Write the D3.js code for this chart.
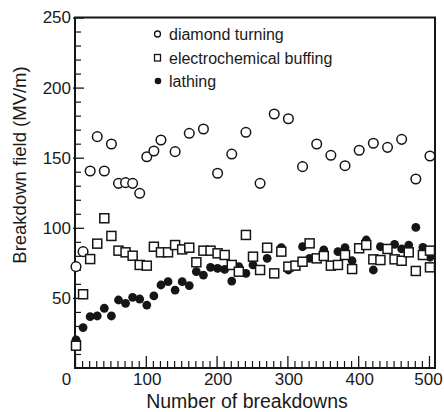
<!DOCTYPE html>
<html>
<head>
<meta charset="utf-8">
<script src="https://cdn.jsdelivr.net/npm/d3@7"></script>
<style>
  html, body { margin: 0; padding: 0; background: #fff; }
  svg { display: block; }
  text { font-family: "Liberation Sans", Arial, Helvetica, sans-serif; fill: #1a1a1a; }
</style>
</head>
<body>
<svg id="chart" width="444" height="412"></svg>
<script>
// ---- Data ----
const seriesNames = ["diamond turning", "electrochemical buffing", "lathing"];

const diamondX = [0, 10, 20, 30, 40, 50, 60, 70, 80, 90, 100, 110, 120, 140, 160, 180, 200, 220, 240, 260, 280, 300, 320, 340, 360, 380, 400, 420, 440, 460, 480, 500];
const diamondY = [72.3, 83.0, 140.5, 165.0, 140.5, 159.8, 131.7, 132.2, 131.7, 124.6, 150.7, 154.8, 162.6, 154.3, 167.4, 170.5, 138.9, 152.6, 168.1, 131.7, 181.2, 177.8, 143.6, 159.8, 151.7, 144.3, 155.3, 160.3, 157.4, 163.1, 134.8, 151.2];

const buffingX = [0, 10, 20, 30, 40, 50, 60, 70, 80, 90, 100, 110, 120, 130, 140, 150, 160, 170, 180, 190, 200, 210, 220, 230, 240, 250, 260, 270, 280, 290, 300, 310, 320, 330, 340, 350, 360, 370, 380, 390, 400, 410, 420, 430, 440, 450, 460, 470, 480, 490, 500, 500];
const buffingY = [15.9, 52.6, 77.7, 88.7, 106.8, 94.2, 83.7, 82.5, 80.1, 73.5, 73.0, 86.5, 82.5, 82.5, 87.7, 84.6, 85.8, 75.4, 83.7, 83.7, 81.8, 80.6, 73.5, 68.7, 94.9, 79.4, 69.9, 85.8, 67.5, 83.0, 72.3, 73.0, 75.8, 88.9, 78.2, 79.9, 73.0, 73.5, 80.6, 70.6, 85.4, 87.7, 77.5, 77.0, 84.9, 77.5, 76.5, 82.5, 69.2, 80.6, 83.7, 71.8];

const lathingX = [0, 10, 20, 30, 40, 50, 60, 70, 80, 90, 100, 110, 120, 130, 140, 150, 160, 170, 180, 190, 200, 210, 220, 230, 240, 250, 270, 290, 300, 320, 330, 350, 370, 380, 390, 410, 420, 430, 450, 460, 470, 480, 490, 500];
const lathingY = [20.0, 28.8, 36.6, 37.1, 42.6, 37.1, 48.5, 46.1, 50.4, 49.2, 44.9, 51.4, 59.2, 61.6, 55.6, 61.6, 58.8, 68.7, 66.3, 71.8, 71.1, 70.4, 62.0, 72.3, 67.5, 73.5, 78.2, 85.8, 69.9, 86.5, 78.2, 84.2, 83.0, 85.8, 76.5, 91.3, 69.9, 86.5, 88.2, 84.9, 87.7, 100.3, 86.0, 79.0];

const xMajorTicks = [0, 100, 200, 300, 400, 500];
const yMajorTicks = [50, 100, 150, 200, 250];

// ---- Layout ----
const svg = d3.select("#chart");
const plotL = 75, plotR = 435, plotT = 17.5, plotB = 368;
const x = d3.scaleLinear().domain([0, 508.5]).range([plotL, plotR]);
const y = d3.scaleLinear().domain([0, 250]).range([plotB, plotT]);

const ink = "#151515";

// minor ticks
const xMinor = d3.range(10, 510, 10).filter(v => v % 50 !== 0);
const yMinor = d3.range(10, 250, 10).filter(v => v % 50 !== 0);

svg.append("g").attr("transform", `translate(0,${plotB})`)
  .call(d3.axisBottom(x).tickValues(xMinor).tickSize(-7).tickFormat(""))
  .call(g => g.select(".domain").remove())
  .call(g => g.selectAll("line").attr("stroke", ink).attr("stroke-width", 1.2));
svg.append("g").attr("transform", `translate(0,${plotB})`)
  .call(d3.axisBottom(x).tickValues(d3.range(50, 510, 100)).tickSize(-7).tickFormat(""))
  .call(g => g.select(".domain").remove())
  .call(g => g.selectAll("line").attr("stroke", ink).attr("stroke-width", 1.2));

svg.append("g").attr("transform", `translate(${plotL},0)`)
  .call(d3.axisLeft(y).tickValues(yMinor).tickSize(-6).tickFormat(""))
  .call(g => g.select(".domain").remove())
  .call(g => g.selectAll("line").attr("stroke", ink).attr("stroke-width", 1.2));

// major ticks + labels
const xAxis = svg.append("g").attr("transform", `translate(0,${plotB})`)
  .call(d3.axisBottom(x).tickValues(xMajorTicks).tickSize(-12).tickPadding(5).tickFormat(d3.format("d")))
  .call(g => g.select(".domain").remove());
xAxis.selectAll("line").attr("stroke", ink).attr("stroke-width", 1.3);
xAxis.selectAll("text").attr("font-size", 17).attr("fill", ink)
  .style("font-family", "'Liberation Sans', Arial, sans-serif")
  .attr("dx", d => d === 0 ? -9 : (d === 500 ? -1 : 1));

const yAxis = svg.append("g").attr("transform", `translate(${plotL},0)`)
  .call(d3.axisLeft(y).tickValues(yMajorTicks).tickSize(-9).tickPadding(4).tickFormat(d3.format("d")))
  .call(g => g.select(".domain").remove());
yAxis.selectAll("line").attr("stroke", ink).attr("stroke-width", 1.3).attr("x1", -2);
yAxis.selectAll("text").attr("font-size", 17).attr("fill", ink)
  .style("font-family", "'Liberation Sans', Arial, sans-serif");

// frame
svg.append("rect")
  .attr("x", plotL).attr("y", plotT)
  .attr("width", plotR - plotL).attr("height", plotB - plotT)
  .attr("fill", "none").attr("stroke", ink).attr("stroke-width", 2);

// axis titles
svg.append("text")
  .attr("x", 247).attr("y", 408)
  .attr("text-anchor", "middle")
  .attr("font-size", 19.5)
  .text("Number of breakdowns");
svg.append("text")
  .attr("transform", `translate(26,${165}) rotate(-90)`)
  .attr("text-anchor", "middle")
  .attr("font-size", 18.5)
  .text("Breakdown field (MV/m)");

// ---- Marks ----
const diamond = diamondX.map((d, i) => ({ x: d, y: diamondY[i] }));
const buffing = buffingX.map((d, i) => ({ x: d, y: buffingY[i] }));
const lathing = lathingX.map((d, i) => ({ x: d, y: lathingY[i] }));

svg.append("g").selectAll("circle").data(diamond).join("circle")
  .attr("cx", d => x(d.x) + 1).attr("cy", d => y(d.y)).attr("r", 4.8)
  .attr("fill", "#fff").attr("stroke", ink).attr("stroke-width", 1.5);

svg.append("g").selectAll("circle").data(lathing).join("circle")
  .attr("cx", d => x(d.x) + 1).attr("cy", d => y(d.y)).attr("r", 4.4)
  .attr("fill", ink);

const sq = 9;
svg.append("g").selectAll("rect").data(buffing).join("rect")
  .attr("x", d => x(d.x) + 1 - sq / 2).attr("y", d => y(d.y) - sq / 2)
  .attr("width", sq).attr("height", sq)
  .attr("fill", "#fff").attr("stroke", ink).attr("stroke-width", 1.5);

// ---- Legend ----
const legend = svg.append("g");
const rows = [34, 58, 81];
legend.append("circle").attr("cx", 157.5).attr("cy", rows[0]).attr("r", 3)
  .attr("fill", "#fff").attr("stroke", ink).attr("stroke-width", 1.3);
legend.append("rect").attr("x", 154.5).attr("y", rows[1] - 3.5).attr("width", 6).attr("height", 6.5)
  .attr("fill", "#fff").attr("stroke", ink).attr("stroke-width", 1.3);
legend.append("circle").attr("cx", 158).attr("cy", rows[2]).attr("r", 3.3).attr("fill", ink);
seriesNames.forEach((name, i) => {
  legend.append("text").attr("x", 169).attr("y", rows[i] + 5.5)
    .attr("font-size", 16).text(name);
});
</script>
</body>
</html>
